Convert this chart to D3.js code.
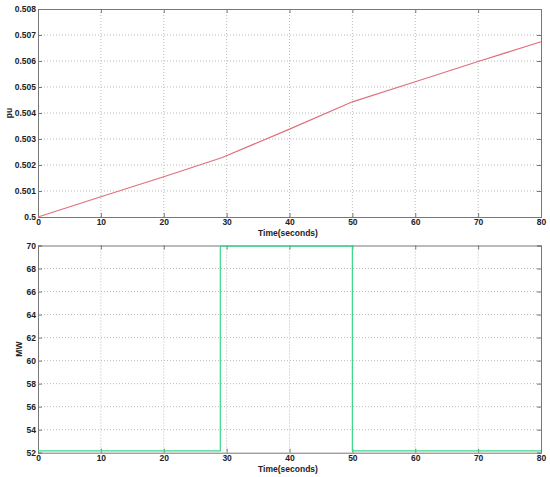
<!DOCTYPE html>
<html><head><meta charset="utf-8">
<script src="https://cdn.jsdelivr.net/npm/d3@7"></script>
<style>body{margin:0;background:#fff}text{font-family:Arial,"Liberation Sans",sans-serif;font-weight:bold;fill:#222}</style>
</head><body><svg id="c" width="550" height="477"></svg>
<script>
const xTicks = [0,10,20,30,40,50,60,70,80];
const puTicks = [0.5,0.501,0.502,0.503,0.504,0.505,0.506,0.507,0.508];
const puTickLabels = ["0.5","0.501","0.502","0.503","0.504","0.505","0.506","0.507","0.508"];
const mwTicks = [52,54,56,58,60,62,64,66,68,70];
const puTime = [0, 10, 20, 29.2, 40, 50, 60, 70, 80];
const puValues = [0.5, 0.50078, 0.50155, 0.50228, 0.50338, 0.50443, 0.50520, 0.50598, 0.50674];
const mwTime = [0, 29, 29, 50, 50, 80];
const mwValues = [52.15, 52.15, 69.95, 69.95, 52.15, 52.15];

const svg = d3.select("#c");
function panel(top, bottom, yDomain, yTicks, yFmt, ylabel, ylabX, times, vals, color, tOff){
  const x = d3.scaleLinear().domain([0,80]).range([38,541]);
  const y = d3.scaleLinear().domain(yDomain).range([bottom, top]);
  const g = svg.append("g");
  g.selectAll(".vg").data(xTicks.slice(1,-1)).enter().append("line")
    .attr("x1",d=>x(d)).attr("x2",d=>x(d)).attr("y1",top).attr("y2",bottom)
    .attr("stroke","#bbb").attr("stroke-dasharray","1,2").attr("stroke-width",1);
  g.selectAll(".hg").data(yTicks.slice(1,-1)).enter().append("line")
    .attr("y1",d=>y(d)).attr("y2",d=>y(d)).attr("x1",38).attr("x2",541)
    .attr("stroke","#bbb").attr("stroke-dasharray","1,2").attr("stroke-width",1);
  g.append("g").attr("transform",`translate(0,${bottom})`)
    .call(d3.axisBottom(x).tickValues(xTicks).tickSize(-4).tickPadding(2));
  g.append("g").attr("transform",`translate(38,0)`)
    .call(d3.axisLeft(y).tickValues(yTicks).tickFormat(yFmt).tickSize(-4).tickPadding(2));
  g.append("g").attr("transform",`translate(0,${top})`)
    .call(d3.axisTop(x).tickValues(xTicks).tickSize(-4).tickFormat(""));
  g.append("g").attr("transform",`translate(541,0)`)
    .call(d3.axisRight(y).tickValues(yTicks).tickSize(-4).tickFormat(""));
  g.selectAll(".domain").attr("stroke","#777");
  g.selectAll(".tick line").attr("stroke","#777");
  g.selectAll(".tick text").style("font-size","8.5px").style("font-weight","bold").attr("fill","#222");
  g.append("path").datum(times.map((t,i)=>[t,vals[i]]))
    .attr("d", d3.line().x(d=>x(d[0])).y(d=>y(d[1])))
    .attr("fill","none").attr("stroke",color).attr("stroke-width",1.2);
  g.append("text").attr("x",288).attr("y",bottom+tOff).attr("text-anchor","middle")
    .style("font-size","8.5px").text("Time(seconds)");
  g.append("text").attr("transform",`translate(${ylabX},${(top+bottom)/2}) rotate(-90)`)
    .attr("text-anchor","middle").style("font-size","8.5px").text(ylabel);
}
panel(9, 217, [0.5,0.508], puTicks, (d,i)=>puTickLabels[i], "pu", 12, puTime, puValues, "#e0707a", 18.5);
panel(245.5, 452.7, [52,70], mwTicks, d3.format("d"), "MW", 22, mwTime, mwValues, "#3ed68a", 19.5);
</script></body></html>
